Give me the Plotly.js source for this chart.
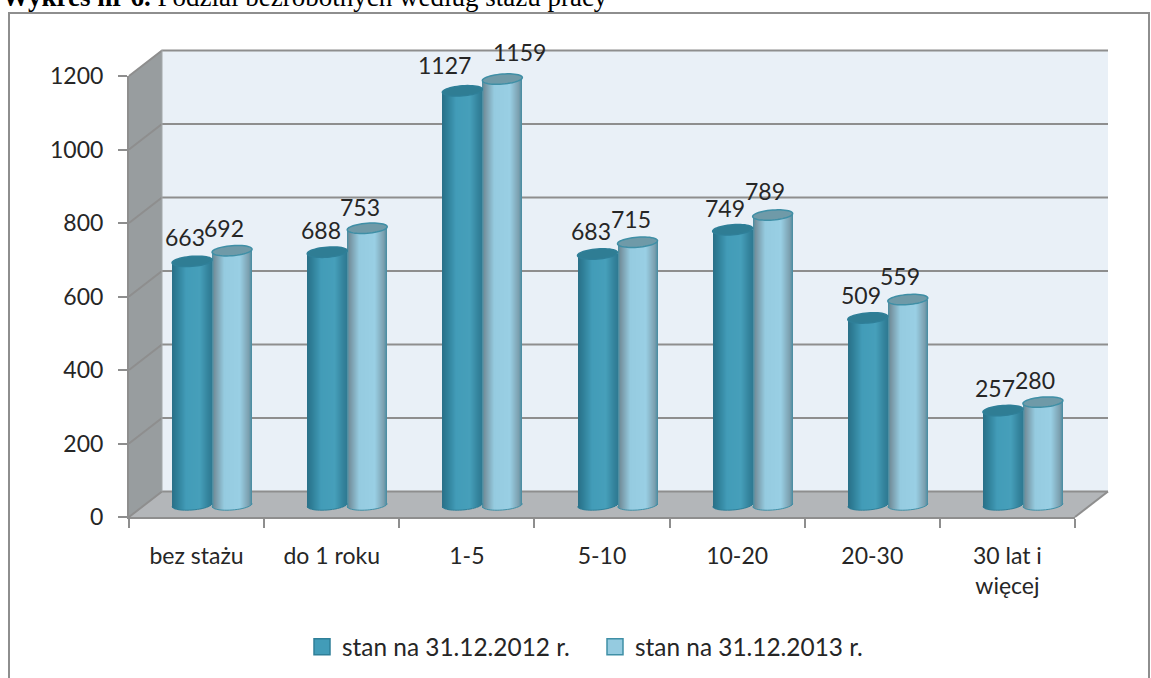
<!DOCTYPE html>
<html>
<head>
<meta charset="utf-8">
<script src="https://cdn.plot.ly/plotly-3.0.1.min.js"></script>
<style>html,body{margin:0;padding:0;background:#fff}#chart{width:1151px;height:678px}</style>
</head>
<body>
<div id="chart"></div>
<script>
var categories = ["bez stażu", "do 1 roku", "1-5", "5-10", "10-20", "20-30", "30 lat i<br>więcej"];
var stan2012 = [663, 688, 1127, 683, 749, 509, 257];
var stan2013 = [692, 753, 1159, 715, 789, 559, 280];
var name2012 = "stan na 31.12.2012 r.";
var name2013 = "stan na 31.12.2013 r.";
var yTicks = [0, 200, 400, 600, 800, 1000, 1200];
var ramp2012 = [[0,"#2a7189"],[0.12,"#2f7f98"],[0.35,"#429cb8"],[0.7,"#469fba"],[0.92,"#33829b"],[1,"#2f7b93"]];
var ramp2013 = [[0,"#4f8ea2"],[0.05,"#74919e"],[0.3,"#95cbe0"],[0.7,"#99cfe4"],[0.93,"#7b9fae"],[1,"#4d8ea3"]];

// page geometry in pixels
var W = 1151, H = 678;
var L = 129, R = 1108, T = 50, B = 517;      // plot box, including the 3D depth
var frontR = 1075, depthX = 33, depthY = 25.5;
var frontTop = 76;
var barDX = 15.5, barDY = 12;
var fx = function (px) { return (px - L) / (R - L); };
var fy = function (px) { return (B - px) / (B - T); };
var pxPerCat = (frontR - L) / categories.length;
var pxPerUnit = (B - frontTop) / 1200;
var rx = 20 / pxPerCat;           // cylinder radius, category units
var ry = 5 / pxPerUnit;           // cylinder ellipse half height, value units
var tilt = 1.5 / pxPerUnit;       // rise of the ellipse's right end
var belowZero = 12 / pxPerUnit;   // room under zero for the rounded cylinder base

function hex(c) { return [1, 3, 5].map(function (i) { return parseInt(c.substr(i, 2), 16); }); }
function rampColor(ramp, t) {
  for (var i = 1; i < ramp.length; i++) {
    if (t <= ramp[i][0]) {
      var f = (t - ramp[i - 1][0]) / (ramp[i][0] - ramp[i - 1][0]);
      var a = hex(ramp[i - 1][1]), b = hex(ramp[i][1]);
      return "rgb(" + a.map(function (v, k) { return Math.round(v + (b[k] - v) * f); }).join(",") + ")";
    }
  }
  return ramp[ramp.length - 1][1];
}

var traces = [];
// legend entries, also carry the category axis
[[name2012, "#429cb8", "#2f7f98"], [name2013, "#95cbe0", "#3f8fa6"]].forEach(function (s) {
  traces.push({
    type: "scatter", mode: "markers", name: s[0], x: categories,
    y: categories.map(function () { return null; }),
    xaxis: "x", yaxis: "y", hoverinfo: "skip",
    marker: { symbol: "square", size: 16, color: s[1], line: { color: s[2], width: 1.5 } }
  });
});

var idx = categories.map(function (c, i) { return i; });
var N = 40;
function addCylinders(values, ramp, sign) {
  for (var k = 0; k < N; k++) {
    var u = (k + 0.5) / N * 2 - 1;        // -1..1 across the cylinder
    var drop = ry * Math.sqrt(1 - u * u) - tilt * u;
    traces.push({
      type: "bar", x: idx, y: values.map(function (v) { return v + drop; }),
      base: idx.map(function () { return -drop; }),
      xaxis: "x2", yaxis: "y2", width: 2 * rx / N,
      offset: (sign > 0 ? 0 : -2 * rx) + 2 * rx * k / N,
      marker: { color: rampColor(ramp, k / (N - 1)), line: { width: 0 } },
      showlegend: false, hoverinfo: "skip"
    });
  }
}
addCylinders(stan2012, ramp2012, -1);
addCylinders(stan2013, ramp2013, 1);

function ellipsePath(cx, v) {
  var p = [];
  for (var a = 0; a < 48; a++) {
    var t = a / 48 * 2 * Math.PI;
    p.push((a ? "L" : "M") + (cx + rx * Math.cos(t)).toFixed(4) + "," + (v + ry * Math.sin(t) + tilt * Math.cos(t)).toFixed(2));
  }
  return p.join(" ") + " Z";
}
function bottomArc(cx) {
  var p = [];
  for (var a = 0; a <= 24; a++) {
    var t = Math.PI + a / 24 * Math.PI;
    p.push((a ? "L" : "M") + (cx + rx * Math.cos(t)).toFixed(4) + "," + (ry * Math.sin(t) + tilt * Math.cos(t)).toFixed(2));
  }
  return p.join(" ");
}

var shapes = [];
function paperPoly(points, fill, lineColor, lw, layer) {
  shapes.push({
    type: "path", xref: "paper", yref: "paper", layer: layer || "below",
    path: points.map(function (p, i) { return (i ? "L" : "M") + fx(p[0]).toFixed(5) + "," + fy(p[1]).toFixed(5); }).join(" ") + (fill ? " Z" : ""),
    fillcolor: fill || "rgba(0,0,0,0)",
    line: { color: lineColor || "rgba(0,0,0,0)", width: lw || 0 }
  });
}
var GRID = "#8e8e8e";
// outer frame
paperPoly([[9, 690], [9, 13], [1149, 13], [1149, 690]], null, "#8e8e8e", 2);
// back wall, side wall, floor
paperPoly([[L + depthX, T], [R, T], [R, B - depthY], [L + depthX, B - depthY]], "#e9f0f7");
paperPoly([[L, frontTop], [L + depthX, T], [L + depthX, B - depthY], [L, B]], "#989d9f");
paperPoly([[L, B], [L + depthX, B - depthY], [R, B - depthY], [frontR, B]], "#b3b6b9");
paperPoly([[frontR, B], [R, B - depthY]], null, GRID, 2);
// grid runs along the side wall and the back wall
yTicks.forEach(function (v) {
  var py = B - v * pxPerUnit;
  paperPoly([[L, py], [L + depthX, py - depthY], [R, py - depthY]], null, GRID, 2);
});
paperPoly([[L + depthX, T], [L + depthX, B - depthY]], null, "#a4a8aa", 1);

// cylinder tops and bottom rims
function addCaps(values, sign, fill, edge) {
  values.forEach(function (v, i) {
    var cx = i + sign * rx;
    shapes.push({ type: "path", xref: "x2", yref: "y2", layer: "above", path: bottomArc(cx), line: { color: edge, width: 1 } });
    shapes.push({ type: "path", xref: "x2", yref: "y2", layer: "above", path: ellipsePath(cx, v), fillcolor: fill, line: { color: edge, width: 1.5 } });
  });
}
addCaps(stan2012, -1, "#2f7d94", "#2f7f98");
addCaps(stan2013, 1, "#6f9aa8", "#3f8fa6");

// value labels
var FONT = "Lato, 'Open Sans', sans-serif";
var TEXT = "#262626";
var annotations = [];
function addLabels(values, sign, shifts, lift) {
  values.forEach(function (v, i) {
    annotations.push({
      xref: "x2", yref: "y2", x: i + sign * rx, y: v, text: String(v), showarrow: false,
      xanchor: "center", yanchor: "middle", xshift: shifts[i], yshift: lift[i],
      font: { family: FONT, size: 23, color: TEXT }
    });
  });
}
addLabels(stan2012, -1, [-7, -6, -18, -7, -8, -7, -8], [24, 22, 26, 23, 22, 23, 23]);
addLabels(stan2013, 1, [-8, -7, 17, -7, -8, -8, -8], [23, 21, 27, 23, 24, 24, 22]);

var layout = {
  width: W, height: H, showlegend: true, autosize: false,
  paper_bgcolor: "#ffffff", plot_bgcolor: "rgba(0,0,0,0)",
  margin: { l: L, r: W - R, t: T, b: H - B, pad: 0, autoexpand: false },
  title: {
    text: "<b>Wykres nr 6.</b> Podział bezrobotnych według stażu pracy",
    x: 0, xref: "container", xanchor: "left", y: 1, yref: "container", yanchor: "top",
    pad: { t: -13, l: 2 },
    font: { family: "'Liberation Serif', serif", size: 27, color: "#000" }
  },
  barmode: "overlay", bargap: 0,
  xaxis: {
    type: "category", categoryorder: "array", categoryarray: categories,
    domain: [0, fx(frontR)], range: [-0.5, 6.5], anchor: "y",
    tickson: "boundaries", ticks: "outside", ticklen: 9, tickwidth: 2, tickcolor: GRID,
    ticklabelstandoff: 17,
    showline: true, linecolor: GRID, linewidth: 2, showgrid: false, zeroline: false, tickangle: 0,
    tickfont: { family: FONT, size: 23, color: TEXT }
  },
  yaxis: {
    range: [0, 1200], domain: [0, fy(frontTop)], anchor: "x", tickvals: yTicks,
    ticks: "outside", ticklen: 9, tickwidth: 2, tickcolor: GRID, ticklabelstandoff: 10,
    showline: true, linecolor: GRID, linewidth: 2, showgrid: false, zeroline: false,
    tickfont: { family: FONT, size: 23, color: TEXT }
  },
  xaxis2: {
    visible: false, type: "linear", anchor: "y2", range: [-0.5, 6.5],
    domain: [fx(L + barDX), fx(frontR + barDX)]
  },
  yaxis2: {
    visible: false, anchor: "x2", range: [-belowZero, 1200],
    domain: [fy(B - barDY + belowZero * pxPerUnit), fy(frontTop - barDY)]
  },
  legend: {
    orientation: "h", x: fx(302), xanchor: "left", y: fy(647), yanchor: "middle",
    entrywidth: 248, entrywidthmode: "pixels",
    font: { family: FONT, size: 24.4, color: TEXT }, itemsizing: "trace",
    itemclick: false, itemdoubleclick: false, bgcolor: "rgba(0,0,0,0)"
  },
  shapes: shapes,
  annotations: annotations
};
Plotly.newPlot("chart", traces, layout, { displayModeBar: false, staticPlot: true });
</script>
</body>
</html>
